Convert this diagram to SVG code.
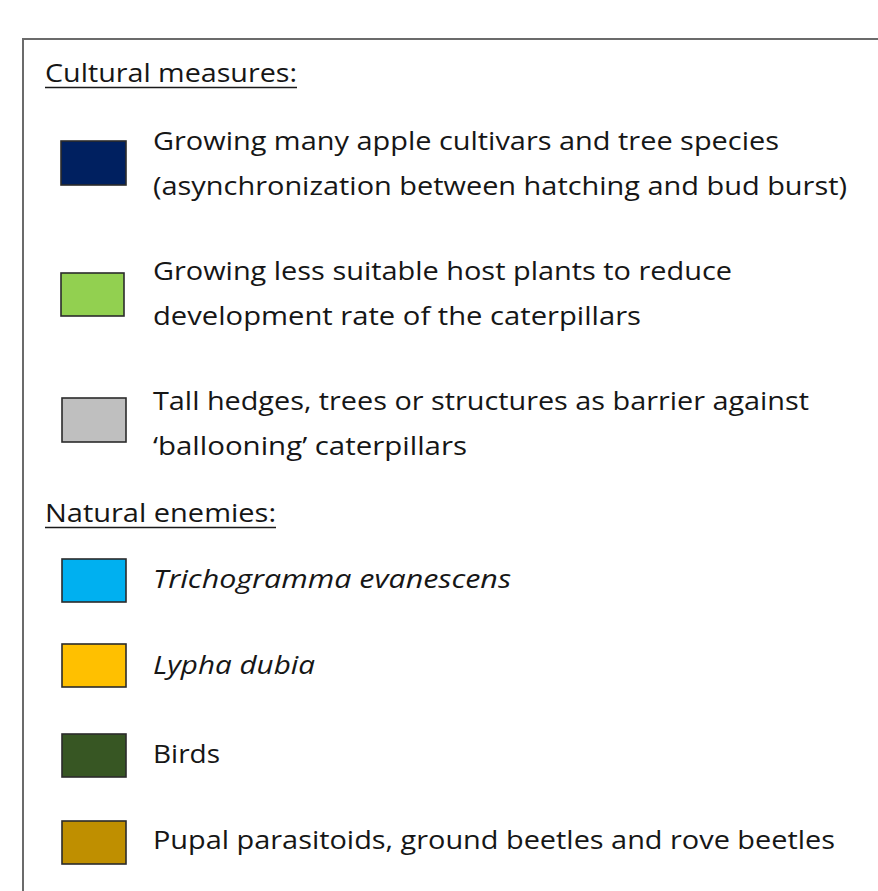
<svg xmlns="http://www.w3.org/2000/svg" width="878" height="891" viewBox="0 0 878 891">
<style>
.t{font-family:"Open Sans",Lato,"Liberation Sans",sans-serif;font-size:25.5px;fill:#161616}
.i{font-style:italic}
.sw{stroke:#2b2b2b;stroke-width:1.6}
.ul{stroke:#1a1a1a;stroke-width:1.5}
.frame{stroke:#6b6b6b;stroke-width:2;fill:none}
</style>
<rect width="878" height="891" fill="#ffffff"/>
<path class="frame" d="M23,891 V39 H878"/>
<g id="heading-cultural">
<text class="t" x="45" y="82" textLength="252" lengthAdjust="spacingAndGlyphs">Cultural measures:</text>
<line class="ul" x1="45" y1="87.5" x2="297" y2="87.5"/>
</g>
<g id="item-cultivars">
<rect class="sw" x="61" y="141" width="65" height="44" fill="#002060"/>
<text class="t" x="153" y="150" textLength="626" lengthAdjust="spacingAndGlyphs">Growing many apple cultivars and tree species</text>
<text class="t" x="153" y="195" textLength="694" lengthAdjust="spacingAndGlyphs">(asynchronization between hatching and bud burst)</text>
</g>
<g id="item-hostplants">
<rect class="sw" x="61" y="273" width="63" height="43" fill="#92D050"/>
<text class="t" x="153" y="280" textLength="579" lengthAdjust="spacingAndGlyphs">Growing less suitable host plants to reduce</text>
<text class="t" x="153" y="325" textLength="488" lengthAdjust="spacingAndGlyphs">development rate of the caterpillars</text>
</g>
<g id="item-hedges">
<rect class="sw" x="62" y="398" width="64" height="44" fill="#BFBFBF"/>
<text class="t" x="153" y="410" textLength="656" lengthAdjust="spacingAndGlyphs">Tall hedges, trees or structures as barrier against</text>
<text class="t" x="153" y="455" textLength="314" lengthAdjust="spacingAndGlyphs">‘ballooning’ caterpillars</text>
</g>
<g id="heading-natural">
<text class="t" x="45" y="522" textLength="231" lengthAdjust="spacingAndGlyphs">Natural enemies:</text>
<line class="ul" x1="45" y1="527.5" x2="276" y2="527.5"/>
</g>
<g id="item-trichogramma">
<rect class="sw" x="62" y="559" width="64" height="43" fill="#00B0F0"/>
<text class="t i" x="153" y="588" textLength="358" lengthAdjust="spacingAndGlyphs">Trichogramma evanescens</text>
</g>
<g id="item-lypha">
<rect class="sw" x="62" y="644" width="64" height="43" fill="#FFC000"/>
<text class="t i" x="153" y="674" textLength="162" lengthAdjust="spacingAndGlyphs">Lypha dubia</text>
</g>
<g id="item-birds">
<rect class="sw" x="62" y="734" width="64" height="43" fill="#375623"/>
<text class="t" x="153" y="763" textLength="67" lengthAdjust="spacingAndGlyphs">Birds</text>
</g>
<g id="item-pupal">
<rect class="sw" x="62" y="821" width="64" height="43" fill="#BF8F00"/>
<text class="t" x="153" y="849" textLength="682" lengthAdjust="spacingAndGlyphs">Pupal parasitoids, ground beetles and rove beetles</text>
</g>
</svg>
